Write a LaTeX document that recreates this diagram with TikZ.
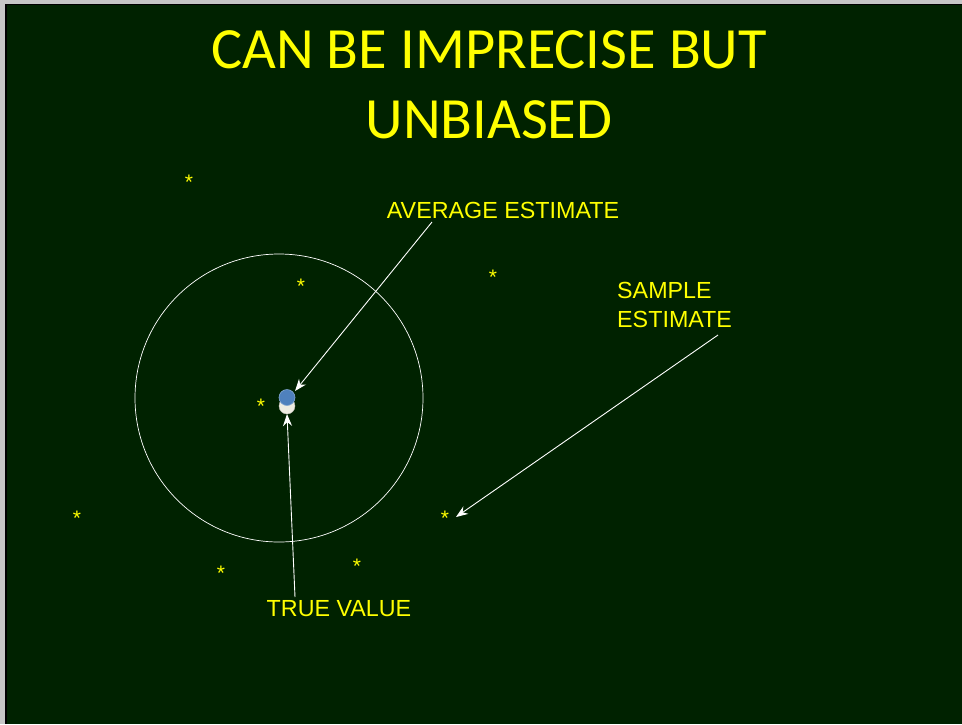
\documentclass[tikz,border=0pt]{standalone}
\usepackage{fontspec}
\setmainfont{Liberation Sans}
\newfontfamily\titlefont{Carlito}
\usetikzlibrary{arrows.meta}
\definecolor{bg}{HTML}{002200}
\definecolor{ylw}{HTML}{FFFF00}
\definecolor{dotblue}{HTML}{4F81BD}
\definecolor{dotcream}{HTML}{EEECE1}
\tikzset{
  lbl/.style={text=ylw, font=\fontsize{23.3}{29}\selectfont, inner sep=0pt},
  ttl/.style={text=ylw, font=\titlefont\fontsize{58.4}{64}\selectfont, inner sep=0pt},
  astx/.style={text=ylw, font=\fontsize{21}{22}\selectfont, inner sep=0pt, anchor=base},
  pointer/.style={draw=white, line width=0.9pt, -{Stealth[length=12pt,width=9pt]}},
}
\begin{document}
\begin{tikzpicture}[x=1pt,y=-1pt]
\useasboundingbox (0,0) rectangle (962,724);
\fill[gray!45] (0,0) rectangle (962,724);
\fill[black] (5,4) rectangle (962,724);
\fill[bg] (7,5) rectangle (962,724);
% title
\node[ttl] (t1) at (489,50) {CAN BE IMPRECISE BUT};
\node[ttl] (t2) at (489,120) {UNBIASED};
% circle
\node[draw=white, line width=0.7pt, circle, minimum size=288pt, inner sep=0pt] (ring) at (279,398) {};
% dots
\node[circle, fill=dotcream, draw=dotcream!80!black, line width=0.4pt, minimum size=16pt, inner sep=0pt] (truedot) at (287,406) {};
\node[circle, fill=dotblue, draw=dotblue!70!white, line width=0.6pt, minimum size=16pt, inner sep=0pt] (avgdot) at (287,397.5) {};
% stars
\node[astx] (s1) at (189,189) {*};
\node[astx] (s2) at (301,293) {*};
\node[astx] (s3) at (493,284) {*};
\node[astx] (s4) at (261,413) {*};
\node[astx] (s5) at (77,525) {*};
\node[astx] (s6) at (445,525) {*};
\node[astx] (s7) at (221,580) {*};
\node[astx] (s8) at (357,573) {*};
% labels
\node[lbl] (avg) at (503,210) {AVERAGE ESTIMATE};
\node[lbl, align=left, anchor=north west] (samp) at (617,282) {SAMPLE\\ESTIMATE};
\node[lbl] (truev) at (339,609) {TRUE VALUE};
% arrow endpoints
\coordinate (a1) at (432,222);
\coordinate (a2) at (295,391);
\coordinate (b1) at (295,597);
\coordinate (b2) at (287,414);
\coordinate (c1) at (718,335);
\coordinate (c2) at (456,517);
\draw[pointer] (a1) -- (a2);
\draw[pointer] (b1) -- (b2);
\draw[pointer] (c1) -- (c2);
\end{tikzpicture}
\end{document}
